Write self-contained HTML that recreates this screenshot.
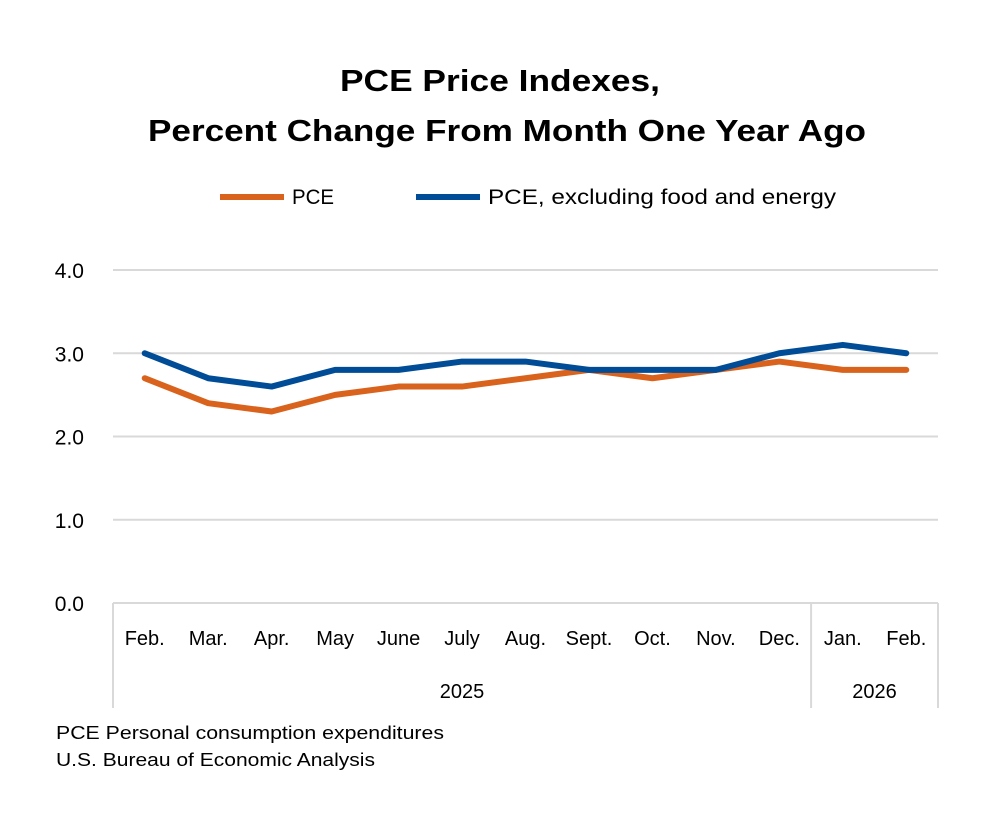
<!DOCTYPE html>
<html><head><meta charset="utf-8"><style>
body{margin:0;background:#fff;}
svg{display:block;font-family:"Liberation Sans",sans-serif;}
</style></head><body>
<svg id="chart" width="992" height="834" viewBox="0 0 992 834">
<text x="340" y="91" font-size="31" font-weight="bold" fill="#000" textLength="320" lengthAdjust="spacingAndGlyphs">PCE Price Indexes,</text>
<text x="148" y="141" font-size="31" font-weight="bold" fill="#000" textLength="718" lengthAdjust="spacingAndGlyphs">Percent Change From Month One Year Ago</text>
<g>
<line x1="220" y1="197" x2="284" y2="197" stroke="#D9621C" stroke-width="6"/>
<text x="292" y="204" font-size="21" fill="#000" textLength="42" lengthAdjust="spacingAndGlyphs">PCE</text>
<line x1="416" y1="197" x2="480" y2="197" stroke="#004C97" stroke-width="6"/>
<text x="488" y="204" font-size="21" fill="#000" textLength="348" lengthAdjust="spacingAndGlyphs">PCE, excluding food and energy</text>
</g>
<g id="grid"></g><g id="xaxis"></g><g id="series"></g>
<text x="56" y="739" font-size="18" fill="#000" textLength="388" lengthAdjust="spacingAndGlyphs">PCE Personal consumption expenditures</text>
<text x="56" y="766" font-size="18" fill="#000" textLength="319" lengthAdjust="spacingAndGlyphs">U.S. Bureau of Economic Analysis</text>
</svg>
<script>
const categories=["Feb.","Mar.","Apr.","May","June","July","Aug.","Sept.","Oct.","Nov.","Dec.","Jan.","Feb."];
const pceValues=[2.7,2.4,2.3,2.5,2.6,2.6,2.7,2.8,2.7,2.8,2.9,2.8,2.8];
const coreValues=[3.0,2.7,2.6,2.8,2.8,2.9,2.9,2.8,2.8,2.8,3.0,3.1,3.0];
const yTicks=[0,1,2,3,4];
const yTickLabels=["0.0","1.0","2.0","3.0","4.0"];
const years=[{label:"2025",start:0,end:10},{label:"2026",start:11,end:12}];

const NS="http://www.w3.org/2000/svg";
const L=113,R=938,T=270,B=603,yMax=4;
const bw=(R-L)/categories.length;
const x=i=>L+bw*(i+0.5);
const y=v=>B-(v/yMax)*(B-T);
function mk(tag,attrs,parent){const e=document.createElementNS(NS,tag);for(const k in attrs)e.setAttribute(k,attrs[k]);parent.appendChild(e);return e;}
const grid=document.getElementById('grid'),xa=document.getElementById('xaxis'),ser=document.getElementById('series');
yTicks.forEach((t,i)=>{
  if(t>0){const g=mk('line',{x1:L,x2:R,y1:y(t),y2:y(t),stroke:'#D9D9D9','stroke-width':2},grid);
  
  }
  const tx=mk('text',{x:84,y:y(t)+8,'text-anchor':'end','font-size':21,fill:'#000'},grid);
  tx.textContent=yTickLabels[i];
  
  
});
const ax=mk('line',{x1:L,x2:R,y1:B,y2:B,stroke:'#D9D9D9','stroke-width':2},xa);


categories.forEach((c,i)=>{
  const t=mk('text',{x:x(i),y:645,'text-anchor':'middle','font-size':20,fill:'#000'},xa);
  t.textContent=c;
  
  
});
const seps=[L];years.forEach(g=>seps.push(L+bw*(g.end+1)));
seps.forEach(sx=>{
  const s=mk('line',{x1:sx,x2:sx,y1:B,y2:708,stroke:'#D9D9D9','stroke-width':2},xa);
  
  
});
years.forEach(g=>{
  const t=mk('text',{x:(x(g.start)+x(g.end))/2,y:698,'text-anchor':'middle','font-size':20,fill:'#000'},xa);
  t.textContent=g.label;
  
  
});
function line(vals,color,name){
  const p=mk('polyline',{points:vals.map((v,i)=>x(i)+','+y(v)).join(' '),fill:'none',stroke:color,'stroke-width':6,'stroke-linejoin':'round','stroke-linecap':'round'},ser);
  
  
}
line(pceValues,'#D9621C','pce-line');
line(coreValues,'#004C97','core-pce-line');
</script>
</body></html>
